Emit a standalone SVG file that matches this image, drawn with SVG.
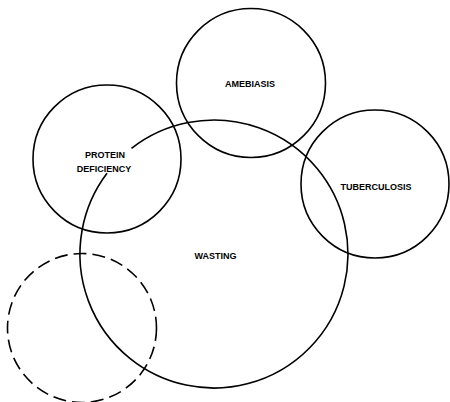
<svg xmlns="http://www.w3.org/2000/svg" width="450" height="402" viewBox="0 0 450 402">
<style>
.c{fill:none;stroke:#000;stroke-width:1.6}
.d{fill:none;stroke:#000;stroke-width:1.6;stroke-dasharray:13 6}
.t{font-family:"Liberation Sans",Arial,sans-serif;font-size:9px;font-weight:bold;fill:#000;text-anchor:middle}
</style>
<rect width="450" height="402" fill="#fff"/>
<g id="wasting">
<path class="c" d="M131.5,148.4 A134,134 0 1 1 107,173.3"/>
<text class="t" x="215.5" y="259">WASTING</text>
</g>
<g id="amebiasis">
<circle class="c" cx="251" cy="83" r="74.5"/>
<text class="t" x="250" y="87">AMEBIASIS</text>
</g>
<g id="protein">
<circle class="c" cx="107" cy="159" r="74"/>
<text class="t" x="105" y="158">PROTEIN</text>
<text class="t" x="104" y="171.5">DEFICIENCY</text>
</g>
<g id="tuberculosis">
<circle class="c" cx="375" cy="184" r="74"/>
<text class="t" x="376" y="190">TUBERCULOSIS</text>
</g>
<g id="unknown">
<circle class="d" cx="82" cy="328" r="74.5"/>
</g>
<g id="connectors"></g>
</svg>
